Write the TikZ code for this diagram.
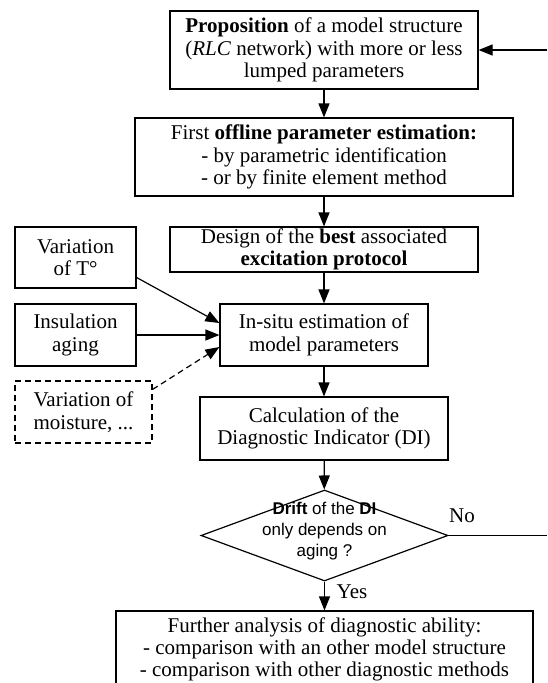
\documentclass[tikz,border=0pt]{standalone}
\usepackage{fontspec}
\setmainfont{Liberation Serif}
\newfontfamily\dsans{Liberation Sans}
\usetikzlibrary{arrows.meta,shapes.geometric}
\begin{document}
\begin{tikzpicture}[x=1pt,y=-1pt,
  box/.style={draw,line width=1.2pt,align=center,inner sep=0pt,font=\fontsize{21}{22.5}\selectfont},
  plain/.style={align=center,inner sep=0pt,font=\fontsize{21}{22.5}\selectfont},
  arr/.style={line width=1.2pt,-{Triangle[length=14pt,width=11pt]}},
  ln/.style={line width=1.2pt},
  dsh/.style={dash pattern=on 6pt off 4pt}]
\clip (0,0) rectangle (547,683);
% main column
\node[box,minimum width=308pt,minimum height=78pt] (b1) at (324,50)
  {\textbf{Proposition} of a model structure\\(\textit{RLC} network) with more or less\\lumped parameters};
\node[box,minimum width=378pt,minimum height=78pt] (b2) at (324,157)
  {First \textbf{offline parameter estimation:}\\- by parametric identification\\- or by finite element method};
\node[box,minimum width=308pt,minimum height=45pt] (b3) at (324,249.5)
  {Design of the \textbf{best} associated\\\textbf{excitation protocol}};
\node[box,minimum width=208pt,minimum height=62pt] (b4) at (324,335)
  {In-situ estimation of\\model parameters};
\node[box,minimum width=248pt,minimum height=63pt] (b5) at (324,428.5)
  {Calculation of the\\Diagnostic Indicator (DI)};
\node[draw,line width=1.2pt,diamond,inner sep=0pt,minimum width=247pt,minimum height=91pt] (dm) at (324.5,535.5) {};
\node[align=center,inner sep=0pt,font=\dsans\fontsize{17}{21}\selectfont] (dt) at (324.5,531)
  {\textbf{Drift} of the \textbf{DI}\\only depends on\\aging ?};
\node[box,minimum width=417pt,minimum height=76pt,font=\fontsize{21}{22}\selectfont] (b6) at (324.5,649)
  {Further analysis of diagnostic ability:\\- comparison with an other model structure\\- comparison with other diagnostic methods};
% side boxes
\node[box,minimum width=121pt,minimum height=61pt] (vt) at (75.5,257.5) {Variation\\of T°};
\node[box,minimum width=121pt,minimum height=62pt] (ia) at (75.5,335) {Insulation\\aging};
\node[box,dsh,minimum width=137pt,minimum height=62pt] (mo) at (83.5,412) {Variation of\\moisture, ...};
% labels
\node[plain] (no) at (462,516) {No};
\node[plain] (yes) at (352,592) {Yes};
% free ends
\coordinate (fbin) at (547,50);
\coordinate (fbout) at (547,535.5);
% connectors
\draw[arr] (b1) -- (b2);
\draw[arr] (b2) -- (b3);
\draw[arr] (b3) -- (b4);
\draw[arr] (b4) -- (b5);
\draw[arr] (b5) -- (dm);
\draw[arr] (dm) -- (b6);
\draw[arr] (fbin) -- (b1.east);
\draw[ln] (dm.east) -- (fbout);
\draw[arr] ([yshift=-20pt]vt.east) -- ([yshift=12pt]b4.west);
\draw[arr] (ia.east) -- (b4.west);
\draw[arr,dsh] ([yshift=-9pt]mo.north east) -- ([yshift=-12pt]b4.west);
\end{tikzpicture}
\end{document}
